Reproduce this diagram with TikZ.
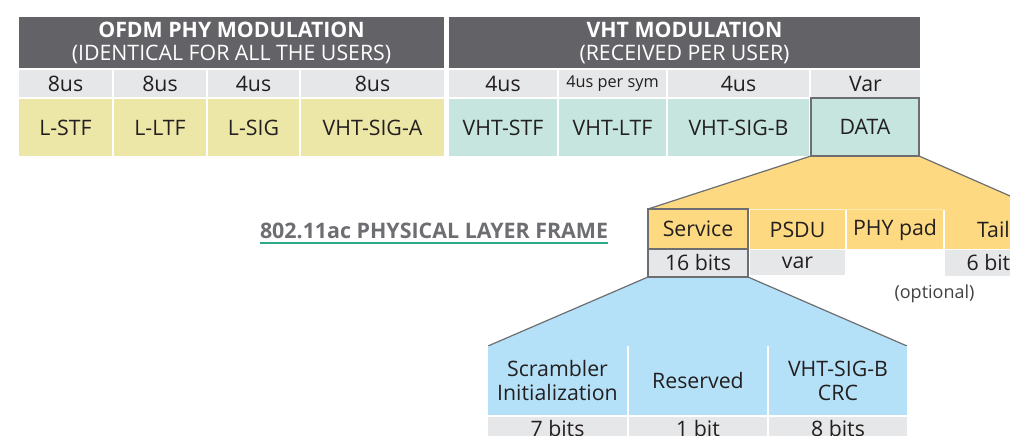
\documentclass[tikz,border=0pt]{standalone}
\usepackage{fontspec}
\setmainfont{Open Sans}
\definecolor{hdr}{HTML}{636266}
\definecolor{dur}{HTML}{E6E7E8}
\definecolor{lgold}{HTML}{ECE7A7}
\definecolor{tealc}{HTML}{C5E5DE}
\definecolor{yel}{HTML}{FDD981}
\definecolor{bluec}{HTML}{B4E1F7}
\definecolor{bord}{HTML}{6D6E71}
\definecolor{ttl}{HTML}{6D6E71}
\definecolor{optc}{HTML}{414042}
\definecolor{uline}{HTML}{2BAA8A}
\definecolor{txt}{HTML}{231F20}
\usetikzlibrary{backgrounds}
\tikzset{
  cell/.style={inner sep=0pt, outer sep=0pt, text=txt, align=center, font=\fontsize{21.3}{24}\selectfont},
  hdrcell/.style={cell, fill=hdr, text=white, minimum height=51pt, font=\fontsize{21.3}{23}\selectfont},
  durcell/.style={cell, fill=dur, minimum height=27pt},
  lcell/.style={cell, fill=lgold, minimum height=57pt},
  tcell/.style={cell, fill=tealc, minimum height=57pt},
  ycell/.style={cell, fill=yel, minimum height=39pt},
  gcell/.style={cell, fill=dur, minimum height=26pt},
  bcell/.style={cell, fill=bluec, minimum height=69pt},
  framed/.style={draw=bord, line width=1.4pt},
  edge/.style={draw=bord, line width=1.2pt},
}
\begin{document}
\begin{tikzpicture}[x=1pt,y=-1pt]
\useasboundingbox (0,0) rectangle (1010,436);
\clip (0,0) rectangle (1010,436);
% headers
\node[hdrcell, minimum width=425pt] (hl) at (231.5,42.5) {{\bfseries OFDM PHY MODULATION}\\(IDENTICAL FOR ALL THE USERS)};
\node[hdrcell, minimum width=471pt] (hr) at (684.5,42.5) {{\bfseries VHT MODULATION}\\(RECEIVED PER USER)};
% durations
\node[durcell, minimum width=93pt] (d1) at (65.5,84) {8us};
\node[durcell, minimum width=92pt] (d2) at (160,84) {8us};
\node[durcell, minimum width=91pt] (d3) at (253.5,84) {4us};
\node[durcell, minimum width=143pt] (d4) at (372.5,84) {8us};
\node[durcell, minimum width=108pt] (d5) at (503,84) {4us};
\node[durcell, minimum width=107pt, font=\fontsize{16.3}{18}\selectfont] (d6) at (612.5,84) {4us per sym};
\node[durcell, minimum width=141pt] (d7) at (738.5,84) {4us};
\node[durcell, minimum width=109pt] (d8) at (865.5,84) {Var};
% fields
\node[lcell, minimum width=93pt] (f1) at (65.5,127.5) {L-STF};
\node[lcell, minimum width=92pt] (f2) at (160,127.5) {L-LTF};
\node[lcell, minimum width=91pt] (f3) at (253.5,127.5) {L-SIG};
\node[lcell, minimum width=143pt] (f4) at (372.5,127.5) {VHT-SIG-A};
\node[tcell, minimum width=108pt] (f5) at (503,127.5) {VHT-STF};
\node[tcell, minimum width=107pt] (f6) at (612.5,127.5) {VHT-LTF};
\node[tcell, minimum width=141pt] (f7) at (738.5,127.5) {VHT-SIG-B};
\node[tcell, framed, minimum width=108pt, minimum height=58pt] (data) at (865,127) {DATA};
% data fields
\node[ycell, framed, minimum width=100pt, minimum height=40pt] (serv) at (698,229) {Service};
\node[ycell, minimum width=95pt] (psdu) at (797.5,229.5) {PSDU};
\node[ycell, minimum width=96pt] (phypad) at (895,229.5) {PHY pad};
\node[ycell, minimum width=97pt] (tail) at (993.5,229.5) {Tail};
\node[gcell, framed, minimum width=100pt, minimum height=28pt] (bits16) at (698,263) {16 bits};
\node[gcell, minimum width=95pt, minimum height=25pt] (var) at (797.5,262.5) {var};
\node[gcell, minimum width=97pt] (tailbits) at (993.5,262.5) {6 bits};
\node[cell, text=optc, font=\fontsize{18}{20}\selectfont] (opt) at (934.5,294) {(optional)};
% service sub-fields
\node[bcell, minimum width=139pt] (s1) at (557.5,380.5) {Scrambler\\Initialization};
\node[bcell, minimum width=138pt] (s2) at (698,380.5) {Reserved};
\node[bcell, minimum width=138pt] (s3) at (838,380.5) {VHT-SIG-B\\CRC};
\node[gcell, minimum width=139pt, minimum height=24pt] (g1) at (557.5,429) {7 bits};
\node[gcell, minimum width=138pt, minimum height=24pt] (g2) at (698,429) {1 bit};
\node[gcell, minimum width=138pt, minimum height=24pt] (g3) at (838,429) {8 bits};
% fans behind
\begin{scope}[on background layer]
\fill[yel] (data.south west) -- (data.south east) -- (tail.north east) -- (serv.north west) -- cycle;
\draw[edge] (data.south west) -- (serv.north west);
\draw[edge] (data.south east) -- (tail.north east);
\fill[bluec] (bits16.south west) -- (bits16.south east) -- (s3.north east) -- (s1.north west) -- cycle;
\draw[edge] (bits16.south west) -- (s1.north west);
\draw[edge] (bits16.south east) -- (s3.north east);
\end{scope}
% title
\node[cell, text=ttl, font=\fontsize{21.4}{24}\selectfont\bfseries, anchor=west] (title) at (260,231) {802.11ac PHYSICAL LAYER FRAME};
\draw[uline, line width=1.4pt] (title.west |- 0,243) -- (title.east |- 0,243);
\end{tikzpicture}
\end{document}
